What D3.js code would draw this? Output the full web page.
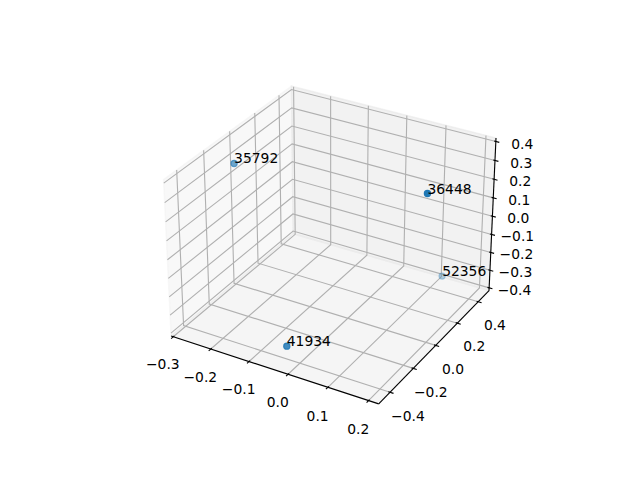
<!DOCTYPE html>
<html>
<head>
	<meta charset="utf-8">
	<title>3D scatter</title>
	<script src="https://cdnjs.cloudflare.com/ajax/libs/d3/7.8.5/d3.min.js"></script>
	<style>
		body { margin: 0; background: #fff; }
		text { font-family: "DejaVu Sans", sans-serif; font-size: 13.89px; }
	</style>
</head>
<body>
	<svg id="chart" width="640" height="480"></svg>
	<script>
		// points
		const ids = ["35792", "36448", "52356", "41934"];
		const xVals = [-0.272, 0.191, 0.119, -0.023];
		const yVals = [-0.070, 0.011, 0.442, -0.431];
		const zVals = [0.302, 0.365, -0.363, -0.319];

		const xTicks = [-0.3, -0.2, -0.1, 0.0, 0.1, 0.2];
		const yTicks = [-0.4, -0.2, 0.0, 0.2, 0.4];
		const zTicks = [-0.4, -0.3, -0.2, -0.1, 0.0, 0.1, 0.2, 0.3, 0.4];

		// camera like a default 3d axes
		const elev = 30, azim = -60, dist = 10;
		const box = [4, 4, 3].map(c => c * 1.8294640721620434 / Math.hypot(4, 4, 3));

		function padded(vals) {
			const lo = d3.min(vals), hi = d3.max(vals), m = (hi - lo) * 0.05;
			return [lo - m, hi + m];
		}
		const lims = [padded(xVals), padded(yVals), padded(zVals)];
		const world = lims.map((l, i) => d3.scaleLinear().domain(l).range([-box[i] / 2, box[i] / 2]));
		const bounds = lims.map(l => { const d = (l[1] - l[0]) / 48; return [l[0] - d, l[1] + d]; });
		const deltas = lims.map(l => (l[1] - l[0]) / 12);
		const centers = lims.map(l => (l[0] + l[1]) / 2);

		const cross = (a, b) => [a[1] * b[2] - a[2] * b[1], a[2] * b[0] - a[0] * b[2], a[0] * b[1] - a[1] * b[0]];
		const dot = (a, b) => a[0] * b[0] + a[1] * b[1] + a[2] * b[2];
		const er = elev * Math.PI / 180, ar = azim * Math.PI / 180;
		const w = [Math.cos(er) * Math.cos(ar), Math.cos(er) * Math.sin(ar), Math.sin(er)];
		let u = cross([0, 0, 1], w);
		const un = Math.hypot(...u);
		u = u.map(c => c / un);
		const v = cross(w, u);

		// panes sit on the planes farther from the eye
		const back = bounds.map((b, i) => w[i] > 0 ? b[0] : b[1]);
		const front = bounds.map((b, i) => w[i] > 0 ? b[1] : b[0]);

		const sx = d3.scaleLinear().domain([-0.095, 0.09]).range([143.2, 512.8]);
		const sy = d3.scaleLinear().domain([-0.095, 0.09]).range([427.2, 57.6]);

		function proj(p) {
			const q = p.map((c, i) => world[i](c));
			const den = dist - dot(w, q);
			return [sx(dot(u, q) / den), sy(dot(v, q) / den), -dist / den];
		}

		const svg = d3.select("#chart");
		svg.append("rect").attr("width", 640).attr("height", 480).attr("fill", "#fff");
		const line = d3.line();
		const xy = p => proj(p).slice(0, 2);

		// panes
		const paneColors = ["rgb(242,242,242)", "rgb(230,230,230)", "rgb(236,236,236)"];
		[0, 1, 2].forEach(i => {
			const j = (i + 1) % 3, k = (i + 2) % 3;
			const corners = [[0, 0], [0, 1], [1, 1], [1, 0]].map(([a, b]) => {
				const p = [0, 0, 0];
				p[i] = back[i]; p[j] = bounds[j][a]; p[k] = bounds[k][b];
				return xy(p);
			});
			svg.append("path")
				.attr("d", line(corners) + "Z")
				.attr("fill", paneColors[i]).attr("fill-opacity", 0.5)
				.attr("stroke", paneColors[i]).attr("stroke-opacity", 0.5)
				.attr("stroke-width", 1.39);
		});

		// grid
		const ticks = [xTicks, yTicks, zTicks];
		ticks.forEach((tk, i) => {
			const a = (i + 1) % 3, b = (i + 2) % 3;
			tk.forEach(t => {
				const p1 = back.slice(); p1[i] = t;
				const p0 = p1.slice(); p0[a] = front[a];
				const p2 = p1.slice(); p2[b] = front[b];
				svg.append("path")
					.attr("d", line([p0, p1, p2].map(xy)))
					.attr("fill", "none").attr("stroke", "#b0b0b0").attr("stroke-width", 1.11);
			});
		});

		// axis lines, ticks, tick labels
		const axes = [
			{ fixed: [null, front[1], back[2]], tickdir: 1 },
			{ fixed: [front[0], null, back[2]], tickdir: 0 },
			{ fixed: [front[0], back[1], null], tickdir: 0 }
		];
		const fmt = d3.format(".1f");
		const labelFactor = 1.037;
		axes.forEach((ax, i) => {
			const e0 = ax.fixed.slice(); e0[i] = bounds[i][0];
			const e1 = ax.fixed.slice(); e1[i] = bounds[i][1];
			svg.append("path").attr("d", line([e0, e1].map(xy)))
				.attr("stroke", "#000").attr("stroke-width", 1.11);
			const td = ax.tickdir;
			const s = Math.sign(ax.fixed[td] - centers[td]);
			ticks[i].forEach(t => {
				const p = ax.fixed.slice(); p[i] = t;
				const pOut = p.slice(); pOut[td] += s * 0.2 * deltas[td];
				const pIn = p.slice(); pIn[td] -= s * 0.1 * deltas[td];
				svg.append("path").attr("d", line([pOut, pIn].map(xy)))
					.attr("stroke", "#000").attr("stroke-width", 1.11);
				const lp = p.slice();
				[0, 1, 2].filter(d => d !== i).forEach(d => {
					lp[d] += labelFactor * deltas[d] * Math.sign(lp[d] - centers[d]);
				});
				const [lx, ly] = xy(lp);
				svg.append("text")
					.attr("x", lx).attr("y", ly + 10.55)
					.attr("text-anchor", "middle")
					.text(fmt(t));
			});
		});

		// points, far ones first, shaded by depth
		const pts = ids.map((id, n) => ({ id, p: proj([xVals[n], yVals[n], zVals[n]]) }));
		const shade = d3.scaleLinear().domain(d3.extent(pts, d => d.p[2])).range([1, 0.3]);
		pts.sort((a, b) => b.p[2] - a.p[2]);
		svg.selectAll("circle.pt").data(pts).join("circle")
			.attr("class", "pt")
			.attr("cx", d => d.p[0]).attr("cy", d => d.p[1]).attr("r", 3.1)
			.attr("fill", "#1f77b4").attr("fill-opacity", d => shade(d.p[2]))
			.attr("stroke", "#1f77b4").attr("stroke-opacity", d => shade(d.p[2]))
			.attr("stroke-width", 1.2);
		svg.selectAll("text.lbl").data(pts).join("text")
			.attr("class", "lbl")
			.attr("x", d => d.p[0]).attr("y", d => d.p[1])
			.attr("fill", "#000")
			.text(d => d.id);
	</script>
</body>
</html>
